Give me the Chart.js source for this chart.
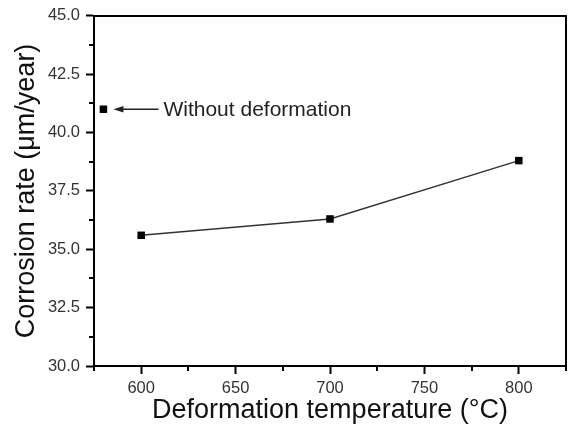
<!DOCTYPE html>
<html>
<head>
<meta charset="utf-8">
<script src="https://cdn.jsdelivr.net/npm/chart.js@4/dist/chart.umd.min.js"></script>
<style>
html,body{margin:0;padding:0;background:#fff;}
#wrap{width:576px;height:430px;position:relative;}
</style>
</head>
<body>
<div id="wrap"><canvas id="c" width="576" height="430"></canvas></div>
<script>
// Data
const temps = [600, 700, 800];
const rates = [35.6, 36.3, 38.8];
const refTemp = [580];
const refRate = [41.0];
const refLabel = 'Without deformation';
const xTicks = [600, 650, 700, 750, 800];
const xMinor = [575, 625, 675, 725, 775, 825];
const yTicks = [30.0, 32.5, 35.0, 37.5, 40.0, 42.5, 45.0];
const yMinor = [31.25, 33.75, 36.25, 38.75, 41.25, 43.75];
const xTitle = 'Deformation temperature (°C)';
const yTitle = 'Corrosion rate (\u03BCm/year)';

const FONT = "'Liberation Sans', Arial, sans-serif";

const framePlugin = {
  id: 'frame',
  afterDraw(chart) {
    const {ctx, chartArea: a, scales} = chart;
    ctx.save();
    ctx.strokeStyle = '#000';
    ctx.lineWidth = 2;
    ctx.beginPath();
    ctx.moveTo(a.left - 1, a.top);
    ctx.lineTo(a.right, a.top);
    ctx.lineTo(a.right, a.bottom + 1);
    ctx.stroke();
    // minor ticks
    ctx.lineWidth = 2;
    ctx.beginPath();
    yMinor.forEach(v => {
      const y = Math.round(scales.y.getPixelForValue(v));
      ctx.moveTo(a.left, y);
      ctx.lineTo(a.left - 5, y);
    });
    xMinor.forEach(v => {
      const x = Math.round(scales.x.getPixelForValue(v));
      ctx.moveTo(x, a.bottom);
      ctx.lineTo(x, a.bottom + 5);
    });
    ctx.stroke();
    // annotation arrow + text
    const px = scales.x.getPixelForValue(refTemp[0]);
    const py = scales.y.getPixelForValue(refRate[0]);
    const x0 = px + 10, x1 = px + 55;
    ctx.lineWidth = 1.3;
    ctx.strokeStyle = '#222';
    ctx.beginPath();
    ctx.moveTo(x0 + 6, py);
    ctx.lineTo(x1, py);
    ctx.stroke();
    ctx.fillStyle = '#222';
    ctx.beginPath();
    ctx.moveTo(x0, py);
    ctx.lineTo(x0 + 10, py - 3.2);
    ctx.lineTo(x0 + 10, py + 3.2);
    ctx.closePath();
    ctx.fill();
    ctx.font = '21px ' + FONT;
    ctx.fillStyle = '#222';
    ctx.textBaseline = 'middle';
    ctx.textAlign = 'left';
    ctx.fillText(refLabel, x1 + 5, py + 1);
    ctx.restore();
  }
};

new Chart(document.getElementById('c'), {
  type: 'scatter',
  data: {
    datasets: [
      {
        data: temps.map((t, i) => ({x: t, y: rates[i]})),
        showLine: true,
        borderColor: '#333',
        borderWidth: 1.4,
        pointStyle: 'rect',
        pointRadius: 5.3,
        pointBackgroundColor: '#000',
        pointBorderColor: '#000',
        pointBorderWidth: 0
      },
      {
        data: refTemp.map((t, i) => ({x: t, y: refRate[i]})),
        showLine: false,
        pointStyle: 'rect',
        pointRadius: 5.3,
        pointBackgroundColor: '#000',
        pointBorderColor: '#000',
        pointBorderWidth: 0
      }
    ]
  },
  options: {
    responsive: false,
    animation: false,
    devicePixelRatio: 1,
    layout: {padding: {left: 0, right: 10, top: 15, bottom: 0}},
    plugins: {legend: {display: false}, tooltip: {enabled: false}},
    scales: {
      x: {
        type: 'linear',
        min: 575,
        max: 825,
        afterBuildTicks: s => { s.ticks = xTicks.map(v => ({value: v})); },
        afterFit: s => { s.height = 64; },
        grid: {drawOnChartArea: false, tickLength: 8, tickWidth: 2, tickColor: '#000'},
        border: {display: true, color: '#000', width: 2},
        ticks: {color: '#333', font: {family: FONT, size: 16.5}, padding: 5, maxRotation: 0,
          callback: v => String(v)},
        title: {display: true, text: xTitle, color: '#111', font: {family: FONT, size: 27}, padding: {top: 0, bottom: 3}}
      },
      y: {
        type: 'linear',
        min: 30,
        max: 45,
        afterBuildTicks: s => { s.ticks = yTicks.map(v => ({value: v})); },
        afterFit: s => { s.width = 94; },
        grid: {drawOnChartArea: false, tickLength: 8, tickWidth: 2, tickColor: '#000'},
        border: {display: true, color: '#000', width: 2},
        ticks: {color: '#333', font: {family: FONT, size: 16.5}, padding: 6,
          callback: v => Number(v).toFixed(1)},
        title: {display: true, text: yTitle, color: '#111', font: {family: FONT, size: 27}, padding: {top: 10, bottom: 0}}
      }
    }
  },
  plugins: [framePlugin]
});
</script>
</body>
</html>
